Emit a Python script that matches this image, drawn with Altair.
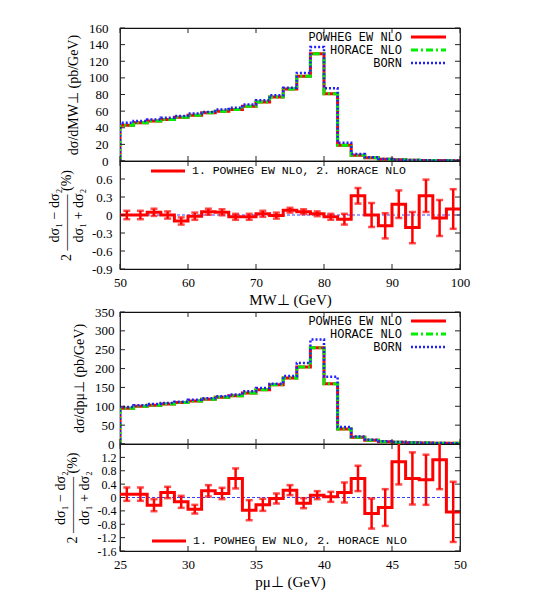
import altair as alt
import pandas as pd

# ---------------- data ----------------
# Panel A: transverse mass M_W⊥, 2 GeV bins 50..100
mw_edges = [50, 52, 54, 56, 58, 60, 62, 64, 66, 68, 70, 72, 74, 76, 78, 80,
            82, 84, 86, 88, 90, 92, 94, 96, 98, 100]
mw_born = [46, 48, 50, 52, 54, 57, 59, 62, 64, 68, 73, 79, 88, 106, 137, 87.5,
           22, 8.5, 4.5, 2.5, 1.6, 1.1, 0.8, 0.6, 0.5]
mw_horace = [43, 46, 48, 50, 52.5, 55, 58, 60, 62, 66, 71, 77, 86.5, 102, 129, 81,
             19, 7, 3.8, 2.1, 1.4, 1.0, 0.7, 0.5, 0.4]
mw_powheg = [43, 46, 48, 50, 52.5, 55, 58, 60, 62, 66, 71, 77, 86.5, 102, 129, 81,
             19, 7, 3.8, 2.1, 1.4, 1.0, 0.7, 0.5, 0.4]
mw_ratio = [0.0, 0.0, 0.045, 0.0, -0.1, -0.02, 0.055, 0.045, -0.03, -0.03, 0.02, -0.01,
            0.08, 0.055, 0.02, -0.03, -0.07, 0.32, 0.0, -0.18, 0.18, -0.21, 0.32, -0.05, 0.1]
mw_err = [0.07, 0.07, 0.06, 0.06, 0.06, 0.06, 0.05, 0.05, 0.05, 0.05, 0.05, 0.05,
          0.04, 0.04, 0.04, 0.05, 0.09, 0.13, 0.2, 0.21, 0.23, 0.26, 0.27, 0.3, 0.33]

# Panel B: lepton transverse momentum p_mu⊥, 1 GeV bins 25..50
pt_edges = [25, 26, 27, 28, 29, 30, 31, 32, 33, 34, 35, 36, 37, 38, 39, 40,
            41, 42, 43, 44, 45, 46, 47, 48, 49, 50]
pt_born = [98, 102.5, 106, 109, 112, 117, 121, 126.5, 131, 140, 148.5, 160, 180, 215, 277, 178,
           45, 20, 11.5, 7, 5, 4, 3, 2.5, 2]
pt_horace = [94.5, 100, 102.5, 106, 110, 114, 118.5, 124, 128, 135, 144, 157, 175, 204, 255, 160,
             40, 18, 10, 6, 4.5, 3.5, 2.7, 2.2, 1.8]
pt_powheg = [94.5, 100, 102.5, 106, 110, 114, 118.5, 124, 128, 135, 144, 157, 175, 204, 255, 160,
             40, 18, 10, 6, 4.5, 3.5, 2.7, 2.2, 1.8]
pt_ratio = [0.1, 0.1, -0.23, 0.15, -0.13, -0.35, 0.2, 0.12, 0.57, -0.38, -0.22, -0.03, 0.22,
            -0.17, 0.07, 0.02, 0.15, 0.57, -0.48, -0.3, 1.07, 0.57, 0.53, 1.13, -0.43]
pt_err = [0.2, 0.2, 0.18, 0.17, 0.18, 0.13, 0.17, 0.17, 0.3, 0.3, 0.18, 0.15, 0.15,
          0.15, 0.12, 0.15, 0.3, 0.38, 0.45, 0.55, 0.68, 0.78, 0.75, 0.88, 0.9]

mw_xticks = [50, 60, 70, 80, 90, 100]
pt_xticks = [25, 30, 35, 40, 45, 50]
mw_yticks = [0, 20, 40, 60, 80, 100, 120, 140, 160]
pt_yticks = [0, 50, 100, 150, 200, 250, 300, 350]
mw_rticks = [-0.9, -0.6, -0.3, 0, 0.3, 0.6, 0.9]
mw_rlabels = [-0.9, -0.6, -0.3, 0, 0.3, 0.6]
pt_rticks = [-1.6, -1.2, -0.8, -0.4, 0, 0.4, 0.8, 1.2, 1.6]
pt_rlabels = [-1.6, -1.2, -0.8, -0.4, 0, 0.4, 0.8, 1.2]

legend_names = ["POWHEG EW NLO", "HORACE NLO", "BORN"]
ratio_legend = "1. POWHEG EW NLO, 2. HORACE NLO"

# ---------------- style ----------------
SERIF = "Liberation Serif"
MONO = "Liberation Mono"
RED, GREEN, BLUE = "#ff0000", "#00ee00", "#2020ff"
W = 340
TICK = 5


def step_df(edges, vals, from_zero):
    xs, ys = [], []
    if from_zero:
        xs.append(edges[0]); ys.append(0.0)
    for e, v in zip(edges[:-1], vals):
        xs.append(e); ys.append(v)
    xs.append(edges[-1]); ys.append(vals[-1])
    return pd.DataFrame({"x": xs, "y": ys, "o": list(range(len(xs)))})


def tick_layers(X, Y, xticks, yticks, h):
    dx = pd.DataFrame({"x": xticks})
    dy = pd.DataFrame({"y": yticks})
    c = "#222222"
    return [
        alt.Chart(dx).mark_rule(color=c, strokeWidth=1).encode(x=X("x"), y=alt.value(0), y2=alt.value(TICK)),
        alt.Chart(dx).mark_rule(color=c, strokeWidth=1).encode(x=X("x"), y=alt.value(h), y2=alt.value(h - TICK)),
        alt.Chart(dy).mark_rule(color=c, strokeWidth=1).encode(y=Y("y"), x=alt.value(0), x2=alt.value(TICK)),
        alt.Chart(dy).mark_rule(color=c, strokeWidth=1).encode(y=Y("y"), x=alt.value(W - TICK), x2=alt.value(W)),
    ]


def top_panel(edges, born, horace, powheg, ymax, yticks, xticks, ytitle, h, labpad):
    xs = alt.Scale(domain=[edges[0], edges[-1]], nice=False, zero=False)
    ys = alt.Scale(domain=[0, ymax], nice=False, zero=False)
    yaxis = alt.Axis(title=ytitle, values=yticks, labelExpr="'' + datum.value",
                     ticks=False, domain=False, grid=False, labelPadding=labpad,
                     titlePadding=8, labelFlush=False, labelOverlap=False)

    def X(f):
        return alt.X(f"{f}:Q", scale=xs, axis=None)

    def Y(f):
        return alt.Y(f"{f}:Q", scale=ys, axis=yaxis)

    layers = []
    specs = [(powheg, RED, None, 3), (horace, GREEN, [7, 3, 2, 3], 3), (born, BLUE, [2, 2], 2.5)]
    for vals, color, dash, sw in specs:
        kw = dict(color=color, strokeWidth=sw, interpolate="step-after", clip=True)
        if dash:
            kw["strokeDash"] = dash
        layers.append(alt.Chart(step_df(edges, vals, True)).mark_line(**kw).encode(
            x=X("x"), y=Y("y"), order="o:Q"))
    layers += tick_layers(X, Y, xticks, yticks, h)
    for i, (name, (vals, color, dash, sw)) in enumerate(zip(legend_names, specs)):
        yy = 9 + 13 * i
        layers.append(alt.Chart(pd.DataFrame({"t": [name]})).mark_text(
            align="right", baseline="middle", font=MONO, fontSize=12, color="black").encode(
            text="t:N", x=alt.value(282), y=alt.value(yy)))
        kw = dict(color=color, strokeWidth=sw)
        if dash:
            kw["strokeDash"] = dash
        layers.append(alt.Chart(pd.DataFrame({"t": [name]})).mark_rule(**kw).encode(
            x=alt.value(291), x2=alt.value(326), y=alt.value(yy)))
    return alt.layer(*layers).properties(width=W, height=h)


def ratio_panel(edges, ratio, err, dom, rticks, rlabels, xticks, xtitle, h, labpad, leg_y, leg_x, lab_fs):
    xs = alt.Scale(domain=[edges[0], edges[-1]], nice=False, zero=False)
    ys = alt.Scale(domain=dom, nice=False, zero=False)
    yaxis = alt.Axis(title=["dσ₁ − dσ₂", "2 ———— (%)", "dσ₁ + dσ₂"], values=rlabels,
                     labelExpr="'' + datum.value", ticks=False, domain=False, grid=False,
                     labelPadding=labpad, titlePadding=6, titleLineHeight=12,
                     labelFlush=False, labelOverlap=False, labelFontSize=lab_fs)
    xaxis = alt.Axis(title=xtitle, values=xticks, ticks=False, domain=False, grid=False,
                     labelPadding=7, titlePadding=3, labelFlush=False, titleFontSize=15)

    def X(f):
        return alt.X(f"{f}:Q", scale=xs, axis=xaxis)

    def Y(f):
        return alt.Y(f"{f}:Q", scale=ys, axis=yaxis)

    centers = [(a + b) / 2 for a, b in zip(edges[:-1], edges[1:])]
    ed = pd.DataFrame({"xc": centers,
                       "lo": [r - e for r, e in zip(ratio, err)],
                       "hi": [r + e for r, e in zip(ratio, err)]})
    layers = [
        alt.Chart(pd.DataFrame({"y": [0]})).mark_rule(color="#3c3cff", strokeWidth=1.2, strokeDash=[3, 2]).encode(y=Y("y")),
        alt.Chart(step_df(edges, ratio, False)).mark_line(
            color=RED, strokeWidth=3, interpolate="step-after", clip=True).encode(x=X("x"), y=Y("y"), order="o:Q"),
        alt.Chart(ed).mark_rule(color=RED, strokeWidth=2.5, clip=True).encode(x=X("xc"), y=Y("lo"), y2="hi:Q"),
        alt.Chart(ed).mark_tick(color=RED, orient="horizontal", size=7, thickness=2.5, clip=True).encode(x=X("xc"), y=Y("lo")),
        alt.Chart(ed).mark_tick(color=RED, orient="horizontal", size=7, thickness=2.5, clip=True).encode(x=X("xc"), y=Y("hi")),
    ]
    layers += tick_layers(X, Y, xticks, rticks, h)
    layers.append(alt.Chart(pd.DataFrame({"t": [ratio_legend]})).mark_text(
        align="left", baseline="middle", font=MONO, fontSize=11.5, color="black").encode(
        text="t:N", x=alt.value(leg_x + 41), y=alt.value(leg_y)))
    layers.append(alt.Chart(pd.DataFrame({"t": [ratio_legend]})).mark_rule(color=RED, strokeWidth=3).encode(
        x=alt.value(leg_x), x2=alt.value(leg_x + 34), y=alt.value(leg_y)))
    return alt.layer(*layers).properties(width=W, height=h)


top1 = top_panel(mw_edges, mw_born, mw_horace, mw_powheg, 160, mw_yticks, mw_xticks,
                 "dσ/dMW⊥ (pb/GeV)", 133, 12)
rat1 = ratio_panel(mw_edges, mw_ratio, mw_err, [-0.9, 0.9], mw_rticks, mw_rlabels, mw_xticks,
                   "MW⊥ (GeV)", 108, 8, 10, 31, 13)
top2 = top_panel(pt_edges, pt_born, pt_horace, pt_powheg, 350, pt_yticks, pt_xticks,
                 "dσ/dpμ⊥ (pb/GeV)", 132, 6)
rat2 = ratio_panel(pt_edges, pt_ratio, pt_err, [-1.6, 1.6], pt_rticks, pt_rlabels, pt_xticks,
                   "pμ⊥ (GeV)", 107, 4, 97, 32, 12)

g1 = alt.vconcat(top1, rat1, spacing=0, bounds="flush")
g2 = alt.vconcat(top2, rat2, spacing=0, bounds="flush")

chart = alt.vconcat(g1, g2, spacing=-3).properties(
    padding={"left": 38, "top": 13, "right": 5, "bottom": 5},
    background="white",
).configure_view(
    stroke="#111111", strokeWidth=1.2
).configure_axis(
    labelFont=SERIF, labelFontSize=13, labelColor="black",
    titleFont=SERIF, titleFontSize=14, titleFontWeight="normal", titleColor="black",
)

chart.save("out.html", embed_options={"renderer": "svg", "actions": False})
